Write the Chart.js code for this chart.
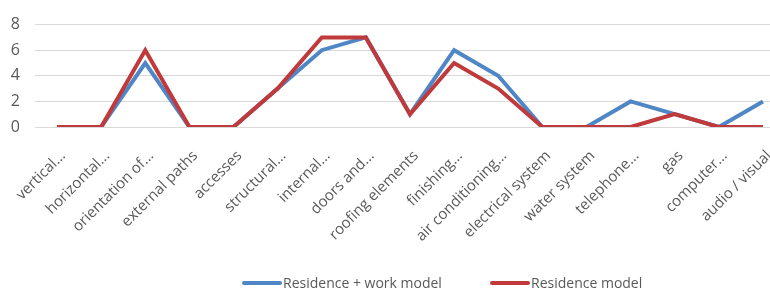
<!DOCTYPE html>
<html>
<head>
<meta charset="utf-8">
<script src="https://cdn.jsdelivr.net/npm/chart.js@4.4.1/dist/chart.umd.min.js"></script>
<style>
  html, body { margin: 0; padding: 0; background: #fff; overflow: hidden; width: 770px; height: 295px; }
  #wrap { position: relative; width: 790px; height: 295px; }
  #legend { position: absolute; top: 274px; left: 0; width: 770px; font-family: "Open Sans", sans-serif; font-size: 14px; color: #595959; }
  .item { position: absolute; top: 0; white-space: nowrap; line-height: 18px; }
  .sw { display: inline-block; width: 40px; height: 4px; border-radius: 2px; vertical-align: middle; margin-right: 1px; position: relative; top: -1px; }
</style>
</head>
<body>
<div id="wrap">
  <canvas id="c" width="790" height="295"></canvas>
  <div id="legend"></div>
</div>
<script>
const categories = ["vertical...", "horizontal...", "orientation of...", "external paths", "accesses", "structural...", "internal...", "doors and...", "roofing elements", "finishing...", "air conditioning...", "electrical system", "water system", "telephone...", "gas", "computer...", "audio / visual"];
const residenceWork = [0, 0, 5, 0, 0, 3, 6, 7, 1, 6, 4, 0, 0, 2, 1, 0, 2];
const residence = [0, 0, 6, 0, 0, 3, 7, 7, 1, 5, 3, 0, 0, 0, 1, 0, 0];
const yTicks = [0, 2, 4, 6, 8];
const seriesNames = ["Residence + work model", "Residence model"];
const colors = ["#4f86c6", "#c0393b"];

const textColor = "#595959";

new Chart(document.getElementById("c"), {
  type: "line",
  data: {
    labels: categories,
    datasets: [
      { label: seriesNames[0], data: residenceWork, borderColor: colors[0], backgroundColor: colors[0], borderWidth: 4, pointRadius: 0, tension: 0, order: 2 },
      { label: seriesNames[1], data: residence, borderColor: colors[1], backgroundColor: colors[1], borderWidth: 4, pointRadius: 0, tension: 0, order: 1 }
    ]
  },
  options: {
    responsive: false,
    animation: false,
    layout: { padding: { top: 23, right: 5, left: 0, bottom: 0 } },
    plugins: { legend: { display: false }, tooltip: { enabled: false } },
    scales: {
      x: {
        offset: true,
        grid: { display: false },
        border: { display: false },
        ticks: { color: textColor, font: { family: "Open Sans", size: 15 }, minRotation: 45, maxRotation: 45, autoSkip: false, padding: 12, labelOffset: 6 },
        afterFit: (s) => { s.height = 168; }
      },
      y: {
        min: yTicks[0], max: yTicks[yTicks.length - 1],
        grid: { color: "#d9d9d9", lineWidth: 1, drawTicks: false },
        border: { display: false },
        afterBuildTicks: (s) => { s.ticks = yTicks.map(v => ({ value: v })); },
        ticks: { color: textColor, font: { family: "Open Sans", size: 16 }, padding: 15 },
        afterFit: (s) => { s.width = 33; }
      }
    }
  }
});

const legend = document.getElementById("legend");
const lefts = [242, 490];
seriesNames.forEach((n, i) => {
  const d = document.createElement("div");
  d.className = "item";
  d.style.left = lefts[i] + "px";
  d.innerHTML = '<span class="sw" style="background:' + colors[i] + '"></span>';
  d.appendChild(document.createTextNode(n));
  legend.appendChild(d);
});
</script>
</body>
</html>
